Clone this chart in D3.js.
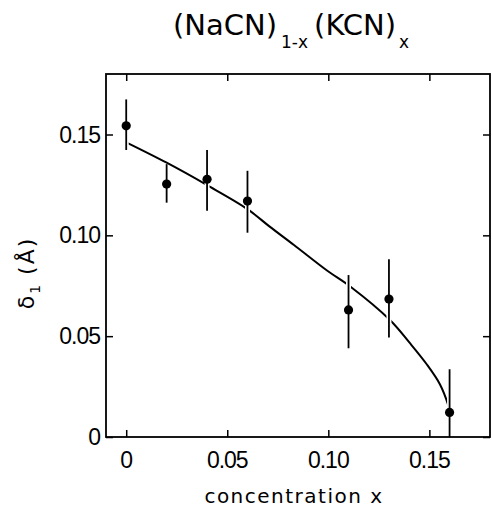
<!DOCTYPE html>
<html lang="en">
    <head>
        <meta charset="utf-8">
        <title>(NaCN)1-x (KCN)x</title>
        <script src="https://d3js.org/d3.v7.min.js"></script>
        <style type="text/css">
            body { margin: 0; background: #fff; }
            .tick-label { font-family: "Liberation Sans Narrow", "Liberation Sans", sans-serif; font-size: 23px; letter-spacing: -1px; }
            .axis-title { font-family: "DejaVu Sans", sans-serif; }
        </style>
    </head>
    <body>
        <script>
            // data
            var conc = [0, 0.02, 0.04, 0.06, 0.11, 0.13, 0.16];
            var delta = [0.1543, 0.1254, 0.1278, 0.117, 0.063, 0.0684, 0.0122];
            var errLow = [0.1423, 0.1162, 0.1122, 0.1013, 0.044, 0.0494, 0];
            var errHigh = [0.1674, 0.1353, 0.1423, 0.132, 0.0803, 0.0881, 0.0336];

            // fitted line, traced point by point
            var fitX = [0, 0.02, 0.04, 0.06, 0.071, 0.083, 0.099, 0.111, 0.1305, 0.1404, 0.1486, 0.1552, 0.1593, 0.1597];
            var fitY = [0.1461, 0.136, 0.1249, 0.113, 0.1043, 0.0952, 0.0828, 0.0745, 0.058, 0.0465, 0.0362, 0.0262, 0.0159, 0.0142];

            var xTicks = [0, 0.05, 0.10, 0.15];
            var xTickLabels = ["0", "0.05", "0.10", "0.15"];
            var yTicks = [0, 0.05, 0.10, 0.15];
            var yTickLabels = ["0", "0.05", "0.10", "0.15"];

            // configuration
            var width = 492;
            var height = 508;
            var plot = { left: 106, top: 74, right: 490, bottom: 437 };
            var tickLen = 7;

            var svg = d3.select("body")
                .append("svg")
                .attr("width", width)
                .attr("height", height);

            var xScale = d3.scaleLinear().domain([-0.01, 0.18]).range([plot.left, plot.right]);
            var yScale = d3.scaleLinear().domain([0, 0.18]).range([plot.bottom, plot.top]);

            // axes with inward ticks on all four sides
            var bottomAxis = d3.axisBottom(xScale).tickValues(xTicks).tickSize(-tickLen).tickFormat("");
            var topAxis = d3.axisTop(xScale).tickValues(xTicks).tickSize(-tickLen).tickFormat("");
            var leftAxis = d3.axisLeft(yScale).tickValues(yTicks).tickSize(-tickLen).tickFormat("");
            var rightAxis = d3.axisRight(yScale).tickValues(yTicks).tickSize(-tickLen).tickFormat("");

            svg.append("g").attr("transform", "translate(0," + plot.bottom + ")").call(bottomAxis);
            svg.append("g").attr("transform", "translate(0," + plot.top + ")").call(topAxis);
            svg.append("g").attr("transform", "translate(" + plot.left + ",0)").call(leftAxis);
            svg.append("g").attr("transform", "translate(" + plot.right + ",0)").call(rightAxis);

            svg.selectAll(".domain").remove();
            svg.selectAll(".tick line").attr("stroke", "#000").attr("stroke-width", 1.5);

            svg.append("rect")
                .attr("x", plot.left)
                .attr("y", plot.top)
                .attr("width", plot.right - plot.left)
                .attr("height", plot.bottom - plot.top)
                .attr("fill", "none")
                .attr("stroke", "#000")
                .attr("stroke-width", 1.8);

            // tick labels
            svg.selectAll(".xlabel")
                .data(xTicks)
                .enter()
                .append("text")
                .attr("class", "tick-label")
                .attr("x", function(d) { return xScale(d); })
                .attr("y", 468)
                .attr("text-anchor", "middle")
                .text(function(d, i) { return xTickLabels[i]; });

            svg.selectAll(".ylabel")
                .data(yTicks)
                .enter()
                .append("text")
                .attr("class", "tick-label")
                .attr("x", 100)
                .attr("y", function(d) { return yScale(d) + 8; })
                .attr("text-anchor", "end")
                .text(function(d, i) { return yTickLabels[i]; });

            // fitted curve
            var line = d3.line()
                .x(function(d, i) { return xScale(fitX[i]); })
                .y(function(d, i) { return yScale(fitY[i]); })
                .curve(d3.curveCatmullRom.alpha(0.5));

            svg.append("path")
                .datum(fitX)
                .attr("d", line)
                .attr("fill", "none")
                .attr("stroke", "#000")
                .attr("stroke-width", 2);

            // error bars (white halo breaks the curve like in the print)
            svg.selectAll(".halo")
                .data(conc)
                .enter()
                .append("line")
                .attr("x1", function(d) { return xScale(d); })
                .attr("x2", function(d) { return xScale(d); })
                .attr("y1", function(d, i) { return yScale(errLow[i]) - 1; })
                .attr("y2", function(d, i) { return yScale(errHigh[i]) + 2; })
                .attr("stroke", "#fff")
                .attr("stroke-width", 5);

            svg.selectAll(".err")
                .data(conc)
                .enter()
                .append("line")
                .attr("x1", function(d) { return xScale(d); })
                .attr("x2", function(d) { return xScale(d); })
                .attr("y1", function(d, i) { return yScale(errLow[i]); })
                .attr("y2", function(d, i) { return yScale(errHigh[i]); })
                .attr("stroke", "#000")
                .attr("stroke-width", 1.8);

            svg.selectAll(".dot")
                .data(conc)
                .enter()
                .append("circle")
                .attr("cx", function(d) { return xScale(d); })
                .attr("cy", function(d, i) { return yScale(delta[i]); })
                .attr("r", 4.6)
                .attr("fill", "#000");

            // title
            var title = svg.append("text")
                .attr("class", "axis-title")
                .attr("x", 173)
                .attr("y", 35)
                .style("font-size", "29px");
            title.append("tspan").text("(NaCN)");
            title.append("tspan").attr("dx", 4).attr("dy", 13).style("font-size", "17px").text("1-x");
            title.append("tspan").attr("dx", 6).attr("dy", -13).text("(KCN)");
            title.append("tspan").attr("dx", 3).attr("dy", 13).style("font-size", "17px").text("x");

            // axis titles
            svg.append("text")
                .attr("class", "axis-title")
                .attr("x", (plot.left + plot.right) / 2 - 4)
                .attr("y", 503)
                .attr("text-anchor", "middle")
                .style("font-size", "20px")
                .style("letter-spacing", "1.5px")
                .text("concentration x");

            var yTitle = svg.append("text")
                .attr("class", "axis-title")
                .attr("transform", "translate(34,273) rotate(-90)")
                .attr("text-anchor", "middle")
                .style("font-size", "22px")
                .style("letter-spacing", "2px");
            yTitle.append("tspan").text("δ");
            yTitle.append("tspan").attr("dy", 6).style("font-size", "14px").text("1");
            yTitle.append("tspan").attr("dx", 8).attr("dy", -6).text("(Å)");
        </script>
    </body>
</html>
